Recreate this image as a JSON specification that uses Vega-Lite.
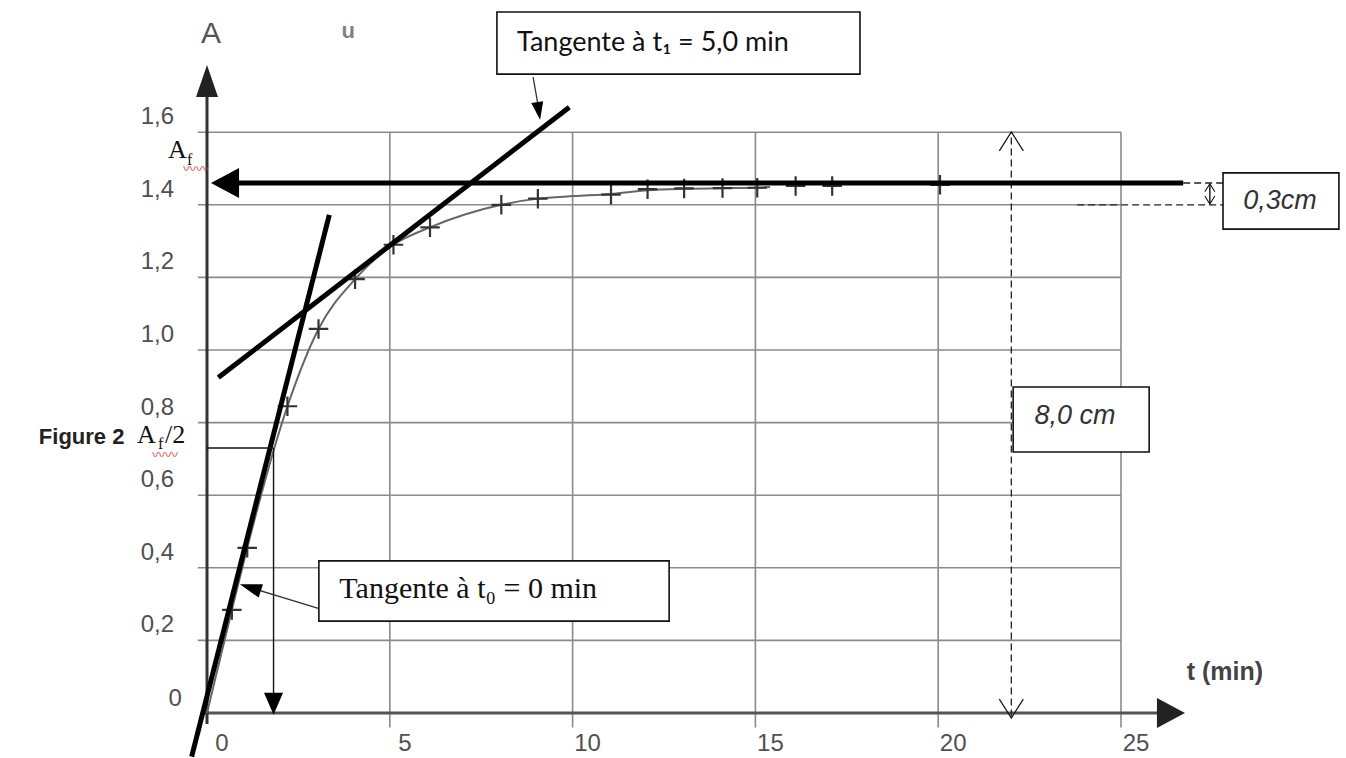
{
  "$schema": "https://vega.github.io/schema/vega-lite/v6.json",
  "width": 1346,
  "height": 758,
  "autosize": {"type": "none"},
  "padding": 0,
  "background": "white",
  "config": {"view": {"stroke": null}},
  "datasets": {
    "hgrid": [{"A": 0.2}, {"A": 0.4}, {"A": 0.6}, {"A": 0.8}, {"A": 1.0}, {"A": 1.2}, {"A": 1.4}, {"A": 1.6}],
    "vgrid": [{"t": 5}, {"t": 10}, {"t": 15}, {"t": 20}, {"t": 25}],
    "measures": [
      {"t": 0.68, "A": 0.284}, {"t": 1.1, "A": 0.455}, {"t": 2.2, "A": 0.845}, {"t": 3.05, "A": 1.058},
      {"t": 4.05, "A": 1.195}, {"t": 5.1, "A": 1.29}, {"t": 6.1, "A": 1.338}, {"t": 8.05, "A": 1.4},
      {"t": 9.05, "A": 1.417}, {"t": 11.05, "A": 1.428}, {"t": 12.05, "A": 1.443}, {"t": 13.05, "A": 1.445},
      {"t": 14.1, "A": 1.446}, {"t": 15.05, "A": 1.447}, {"t": 16.1, "A": 1.452}, {"t": 17.1, "A": 1.452},
      {"t": 20.05, "A": 1.455}
    ],
    "curve": [
      {"t": 0, "A": 0}, {"t": 0.68, "A": 0.284}, {"t": 1.1, "A": 0.455}, {"t": 2.2, "A": 0.845},
      {"t": 3.05, "A": 1.058}, {"t": 4.05, "A": 1.195}, {"t": 5.1, "A": 1.29}, {"t": 6.1, "A": 1.338},
      {"t": 8.05, "A": 1.4}, {"t": 9.05, "A": 1.417}, {"t": 10.05, "A": 1.424}, {"t": 11.05, "A": 1.43},
      {"t": 12.05, "A": 1.44}, {"t": 13.05, "A": 1.444}, {"t": 14.1, "A": 1.446}, {"t": 15.05, "A": 1.447},
      {"t": 15.4, "A": 1.449}
    ],
    "ylabels": [
      {"A": 0.2, "label": "0,2"}, {"A": 0.4, "label": "0,4"}, {"A": 0.6, "label": "0,6"}, {"A": 0.8, "label": "0,8"},
      {"A": 1.0, "label": "1,0"}, {"A": 1.2, "label": "1,2"}, {"A": 1.4, "label": "1,4"}, {"A": 1.6, "label": "1,6"}
    ],
    "xlabels": [
      {"t": 0, "label": "0"}, {"t": 5, "label": "5"}, {"t": 10, "label": "10"},
      {"t": 15, "label": "15"}, {"t": 20, "label": "20"}, {"t": 25, "label": "25"}
    ]
  },
  "layer": [
    {
      "data": {"name": "hgrid"},
      "mark": {"type": "rule", "color": "#8a8a8a", "strokeWidth": 1.6},
      "encoding": {
        "x": {"datum": -0.25, "type": "quantitative", "scale": {"domain": [-5.662, 31.154], "nice": false, "zero": false}, "axis": null},
        "x2": {"datum": 25},
        "y": {"field": "A", "type": "quantitative", "scale": {"domain": [-0.124, 1.9642], "nice": false, "zero": false}, "axis": null}
      }
    },
    {
      "data": {"name": "vgrid"},
      "mark": {"type": "rule", "color": "#8a8a8a", "strokeWidth": 1.6},
      "encoding": {
        "x": {"field": "t", "type": "quantitative", "scale": {"domain": [-5.662, 31.154], "nice": false, "zero": false}, "axis": null},
        "y": {"datum": -0.04, "type": "quantitative", "scale": {"domain": [-0.124, 1.9642], "nice": false, "zero": false}, "axis": null},
        "y2": {"datum": 1.6}
      }
    },
    {
      "data": {"values": [
        {"t": -0.05, "t2": 26.2, "A": 0, "A2": 0, "kind": "xaxis"},
        {"t": 0, "t2": 0, "A": -0.03, "A2": 1.76, "kind": "yaxis"}
      ]},
      "mark": {"type": "rule", "strokeWidth": 3},
      "encoding": {
        "x": {"field": "t", "type": "quantitative", "scale": {"domain": [-5.662, 31.154], "nice": false, "zero": false}, "axis": null},
        "x2": {"field": "t2"},
        "y": {"field": "A", "type": "quantitative", "scale": {"domain": [-0.124, 1.9642], "nice": false, "zero": false}, "axis": null},
        "y2": {"field": "A2"},
        "color": {"field": "kind", "type": "nominal", "scale": {"domain": ["xaxis", "yaxis"], "range": ["#555555", "#333333"]}, "legend": null}
      }
    },
    {
      "data": {"values": [
        {"t": 22, "t2": 22, "A": -0.01, "A2": 1.6},
        {"t": 26.7, "t2": 27.8, "A": 1.46, "A2": 1.46},
        {"t": 23.8, "t2": 27.8, "A": 1.4, "A2": 1.4}
      ]},
      "mark": {"type": "rule", "color": "#222222", "strokeWidth": 1.3, "strokeDash": [7, 4]},
      "encoding": {
        "x": {"field": "t", "type": "quantitative", "scale": {"domain": [-5.662, 31.154], "nice": false, "zero": false}, "axis": null},
        "x2": {"field": "t2"},
        "y": {"field": "A", "type": "quantitative", "scale": {"domain": [-0.124, 1.9642], "nice": false, "zero": false}, "axis": null},
        "y2": {"field": "A2"}
      }
    },
    {
      "data": {"name": "curve"},
      "mark": {"type": "line", "color": "#666666", "strokeWidth": 2, "interpolate": "monotone"},
      "encoding": {
        "x": {"field": "t", "type": "quantitative", "scale": {"domain": [-5.662, 31.154], "nice": false, "zero": false}, "axis": null},
        "y": {"field": "A", "type": "quantitative", "scale": {"domain": [-0.124, 1.9642], "nice": false, "zero": false}, "axis": null}
      }
    },
    {
      "data": {"name": "measures"},
      "mark": {"type": "point", "shape": "M-1,0L1,0M0,-1L0,1", "size": 380, "filled": false, "color": "#333333", "strokeWidth": 2.2, "opacity": 1},
      "encoding": {
        "x": {"field": "t", "type": "quantitative", "scale": {"domain": [-5.662, 31.154], "nice": false, "zero": false}, "axis": null},
        "y": {"field": "A", "type": "quantitative", "scale": {"domain": [-0.124, 1.9642], "nice": false, "zero": false}, "axis": null}
      }
    },
    {
      "data": {"values": [
        {"t": -0.42, "A": -0.12, "t2": 3.345, "A2": 1.372},
        {"t": 0.31, "A": 0.924, "t2": 9.91, "A2": 1.669},
        {"t": 0.6, "A": 1.46, "t2": 26.7, "A2": 1.46}
      ]},
      "mark": {"type": "rule", "color": "#000000", "strokeWidth": 5},
      "encoding": {
        "x": {"field": "t", "type": "quantitative", "scale": {"domain": [-5.662, 31.154], "nice": false, "zero": false}, "axis": null},
        "x2": {"field": "t2"},
        "y": {"field": "A", "type": "quantitative", "scale": {"domain": [-0.124, 1.9642], "nice": false, "zero": false}, "axis": null},
        "y2": {"field": "A2"}
      }
    },
    {
      "data": {"values": [
        {"t": 0, "t2": 1.82, "A": 0.73, "A2": 0.73},
        {"t": 1.82, "t2": 1.82, "A": 0.73, "A2": 0.03},
        {"t": 27.43, "t2": 27.43, "A": 1.405, "A2": 1.455}
      ]},
      "mark": {"type": "rule", "color": "#111111", "strokeWidth": 1.4},
      "encoding": {
        "x": {"field": "t", "type": "quantitative", "scale": {"domain": [-5.662, 31.154], "nice": false, "zero": false}, "axis": null},
        "x2": {"field": "t2"},
        "y": {"field": "A", "type": "quantitative", "scale": {"domain": [-0.124, 1.9642], "nice": false, "zero": false}, "axis": null},
        "y2": {"field": "A2"}
      }
    },
    {
      "data": {"values": [
        {"t": 8.92, "A": 1.752, "t2": 9.08, "A2": 1.66},
        {"t": 3.09, "A": 0.2865, "t2": 1.2, "A2": 0.345}
      ]},
      "mark": {"type": "rule", "color": "#333333", "strokeWidth": 1.3},
      "encoding": {
        "x": {"field": "t", "type": "quantitative", "scale": {"domain": [-5.662, 31.154], "nice": false, "zero": false}, "axis": null},
        "x2": {"field": "t2"},
        "y": {"field": "A", "type": "quantitative", "scale": {"domain": [-0.124, 1.9642], "nice": false, "zero": false}, "axis": null},
        "y2": {"field": "A2"}
      }
    },
    {
      "data": {"values": [{"t": 0, "A": 1.785}]},
      "mark": {"type": "point", "shape": "M0,0L-0.6875,2L0.6875,2Z", "size": 1024, "filled": true, "color": "#222222", "opacity": 1},
      "encoding": {
        "x": {"field": "t", "type": "quantitative", "scale": {"domain": [-5.662, 31.154], "nice": false, "zero": false}, "axis": null},
        "y": {"field": "A", "type": "quantitative", "scale": {"domain": [-0.124, 1.9642], "nice": false, "zero": false}, "axis": null}
      }
    },
    {
      "data": {"values": [{"t": 26.75, "A": 0}]},
      "mark": {"type": "point", "shape": "M0,0L-1.87,-1L-1.87,1Z", "size": 900, "filled": true, "color": "#222222", "opacity": 1},
      "encoding": {
        "x": {"field": "t", "type": "quantitative", "scale": {"domain": [-5.662, 31.154], "nice": false, "zero": false}, "axis": null},
        "y": {"field": "A", "type": "quantitative", "scale": {"domain": [-0.124, 1.9642], "nice": false, "zero": false}, "axis": null}
      }
    },
    {
      "data": {"values": [{"t": 0.11, "A": 1.46}]},
      "mark": {"type": "point", "shape": "M0,0L1.87,-1L1.87,1Z", "size": 900, "filled": true, "color": "#000000", "opacity": 1},
      "encoding": {
        "x": {"field": "t", "type": "quantitative", "scale": {"domain": [-5.662, 31.154], "nice": false, "zero": false}, "axis": null},
        "y": {"field": "A", "type": "quantitative", "scale": {"domain": [-0.124, 1.9642], "nice": false, "zero": false}, "axis": null}
      }
    },
    {
      "data": {"values": [{"t": 1.82, "A": -0.005}]},
      "mark": {"type": "point", "shape": "M0,0L-0.864,-2L0.864,-2Z", "size": 484, "filled": true, "color": "#000000", "opacity": 1},
      "encoding": {
        "x": {"field": "t", "type": "quantitative", "scale": {"domain": [-5.662, 31.154], "nice": false, "zero": false}, "axis": null},
        "y": {"field": "A", "type": "quantitative", "scale": {"domain": [-0.124, 1.9642], "nice": false, "zero": false}, "axis": null}
      }
    },
    {
      "data": {"values": [{"t": 9.11, "A": 1.634}]},
      "mark": {"type": "point", "shape": "M0,0L0.67,2L-0.67,2Z", "size": 324, "angle": 171, "filled": true, "color": "#000000", "opacity": 1},
      "encoding": {
        "x": {"field": "t", "type": "quantitative", "scale": {"domain": [-5.662, 31.154], "nice": false, "zero": false}, "axis": null},
        "y": {"field": "A", "type": "quantitative", "scale": {"domain": [-0.124, 1.9642], "nice": false, "zero": false}, "axis": null}
      }
    },
    {
      "data": {"values": [{"t": 0.9, "A": 0.355}]},
      "mark": {"type": "point", "shape": "M0,0L0.64,2L-0.64,2Z", "size": 484, "angle": 288, "filled": true, "color": "#000000", "opacity": 1},
      "encoding": {
        "x": {"field": "t", "type": "quantitative", "scale": {"domain": [-5.662, 31.154], "nice": false, "zero": false}, "axis": null},
        "y": {"field": "A", "type": "quantitative", "scale": {"domain": [-0.124, 1.9642], "nice": false, "zero": false}, "axis": null}
      }
    },
    {
      "data": {"values": [{"t": 22, "A": 1.601}]},
      "mark": {"type": "point", "shape": "M-1.26,2L0,0L1.26,2", "size": 361, "filled": false, "color": "#111111", "strokeWidth": 1.2, "opacity": 1},
      "encoding": {
        "x": {"field": "t", "type": "quantitative", "scale": {"domain": [-5.662, 31.154], "nice": false, "zero": false}, "axis": null},
        "y": {"field": "A", "type": "quantitative", "scale": {"domain": [-0.124, 1.9642], "nice": false, "zero": false}, "axis": null}
      }
    },
    {
      "data": {"values": [{"t": 22, "A": -0.014}]},
      "mark": {"type": "point", "shape": "M-1.26,-2L0,0L1.26,-2", "size": 361, "filled": false, "color": "#111111", "strokeWidth": 1.2, "opacity": 1},
      "encoding": {
        "x": {"field": "t", "type": "quantitative", "scale": {"domain": [-5.662, 31.154], "nice": false, "zero": false}, "axis": null},
        "y": {"field": "A", "type": "quantitative", "scale": {"domain": [-0.124, 1.9642], "nice": false, "zero": false}, "axis": null}
      }
    },
    {
      "data": {"values": [{"t": 27.43, "A": 1.458}]},
      "mark": {"type": "point", "shape": "M-1.25,2L0,0L1.25,2", "size": 64, "filled": false, "color": "#111111", "strokeWidth": 1.1, "opacity": 1},
      "encoding": {
        "x": {"field": "t", "type": "quantitative", "scale": {"domain": [-5.662, 31.154], "nice": false, "zero": false}, "axis": null},
        "y": {"field": "A", "type": "quantitative", "scale": {"domain": [-0.124, 1.9642], "nice": false, "zero": false}, "axis": null}
      }
    },
    {
      "data": {"values": [{"t": 27.43, "A": 1.402}]},
      "mark": {"type": "point", "shape": "M-1.25,-2L0,0L1.25,-2", "size": 64, "filled": false, "color": "#111111", "strokeWidth": 1.1, "opacity": 1},
      "encoding": {
        "x": {"field": "t", "type": "quantitative", "scale": {"domain": [-5.662, 31.154], "nice": false, "zero": false}, "axis": null},
        "y": {"field": "A", "type": "quantitative", "scale": {"domain": [-0.124, 1.9642], "nice": false, "zero": false}, "axis": null}
      }
    },
    {
      "data": {"values": [
        {"t": 7.93, "t2": 17.86, "A": 1.931, "A2": 1.76},
        {"t": 3.06, "t2": 12.64, "A": 0.419, "A2": 0.253},
        {"t": 27.79, "t2": 30.96, "A": 1.488, "A2": 1.333},
        {"t": 22.05, "t2": 25.77, "A": 0.898, "A2": 0.719}
      ]},
      "mark": {"type": "rect", "fill": "white", "stroke": "#111111", "strokeWidth": 1.6},
      "encoding": {
        "x": {"field": "t", "type": "quantitative", "scale": {"domain": [-5.662, 31.154], "nice": false, "zero": false}, "axis": null},
        "x2": {"field": "t2"},
        "y": {"field": "A", "type": "quantitative", "scale": {"domain": [-0.124, 1.9642], "nice": false, "zero": false}, "axis": null},
        "y2": {"field": "A2"}
      }
    },
    {
      "data": {"values": [{"t": 8.48, "A": 1.846, "label": "Tangente à t₁ = 5,0 min"}]},
      "mark": {"type": "text", "font": "Lato, DejaVu Sans", "fontSize": 27, "align": "left", "baseline": "middle", "color": "#111111"},
      "encoding": {
        "x": {"field": "t", "type": "quantitative", "scale": {"domain": [-5.662, 31.154], "nice": false, "zero": false}, "axis": null},
        "y": {"field": "A", "type": "quantitative", "scale": {"domain": [-0.124, 1.9642], "nice": false, "zero": false}, "axis": null},
        "text": {"field": "label"}
      }
    },
    {
      "data": {"values": [{"t": 3.62, "A": 0.317, "label": "Tangente à t₀ = 0 min"}]},
      "mark": {"type": "text", "font": "Liberation Serif, DejaVu Serif", "fontSize": 30, "align": "left", "baseline": "alphabetic", "color": "#111111"},
      "encoding": {
        "x": {"field": "t", "type": "quantitative", "scale": {"domain": [-5.662, 31.154], "nice": false, "zero": false}, "axis": null},
        "y": {"field": "A", "type": "quantitative", "scale": {"domain": [-0.124, 1.9642], "nice": false, "zero": false}, "axis": null},
        "text": {"field": "label"}
      }
    },
    {
      "data": {"values": [{"t": 29.35, "A": 1.41, "label": "0,3cm"}, {"t": 23.74, "A": 0.818, "label": "8,0 cm"}]},
      "mark": {"type": "text", "font": "Liberation Sans", "fontSize": 27, "fontStyle": "italic", "align": "center", "baseline": "middle", "color": "#333333"},
      "encoding": {
        "x": {"field": "t", "type": "quantitative", "scale": {"domain": [-5.662, 31.154], "nice": false, "zero": false}, "axis": null},
        "y": {"field": "A", "type": "quantitative", "scale": {"domain": [-0.124, 1.9642], "nice": false, "zero": false}, "axis": null},
        "text": {"field": "label"}
      }
    },
    {
      "data": {"values": [{"t": 0.11, "A": 1.87, "label": "A"}]},
      "mark": {"type": "text", "font": "Liberation Sans", "fontSize": 30, "align": "center", "baseline": "middle", "color": "#555555"},
      "encoding": {
        "x": {"field": "t", "type": "quantitative", "scale": {"domain": [-5.662, 31.154], "nice": false, "zero": false}, "axis": null},
        "y": {"field": "A", "type": "quantitative", "scale": {"domain": [-0.124, 1.9642], "nice": false, "zero": false}, "axis": null},
        "text": {"field": "label"}
      }
    },
    {
      "data": {"values": [{"t": 3.86, "A": 1.879, "label": "u"}]},
      "mark": {"type": "text", "font": "Liberation Sans", "fontSize": 22, "fontWeight": "bold", "align": "center", "baseline": "middle", "color": "#808080"},
      "encoding": {
        "x": {"field": "t", "type": "quantitative", "scale": {"domain": [-5.662, 31.154], "nice": false, "zero": false}, "axis": null},
        "y": {"field": "A", "type": "quantitative", "scale": {"domain": [-0.124, 1.9642], "nice": false, "zero": false}, "axis": null},
        "text": {"field": "label"}
      }
    },
    {
      "data": {"values": [{"t": -4.6, "A": 0.76, "label": "Figure 2"}]},
      "mark": {"type": "text", "font": "Liberation Sans", "fontSize": 22, "fontWeight": "bold", "align": "left", "baseline": "middle", "color": "#222222"},
      "encoding": {
        "x": {"field": "t", "type": "quantitative", "scale": {"domain": [-5.662, 31.154], "nice": false, "zero": false}, "axis": null},
        "y": {"field": "A", "type": "quantitative", "scale": {"domain": [-0.124, 1.9642], "nice": false, "zero": false}, "axis": null},
        "text": {"field": "label"}
      }
    },
    {
      "data": {"values": [{"t": 27.84, "A": 0.113, "label": "t (min)"}]},
      "mark": {"type": "text", "font": "Liberation Sans", "fontSize": 25, "fontWeight": "bold", "align": "center", "baseline": "middle", "color": "#444444"},
      "encoding": {
        "x": {"field": "t", "type": "quantitative", "scale": {"domain": [-5.662, 31.154], "nice": false, "zero": false}, "axis": null},
        "y": {"field": "A", "type": "quantitative", "scale": {"domain": [-0.124, 1.9642], "nice": false, "zero": false}, "axis": null},
        "text": {"field": "label"}
      }
    },
    {
      "data": {"name": "ylabels"},
      "mark": {"type": "text", "font": "Liberation Sans", "fontSize": 24, "align": "right", "baseline": "middle", "dy": -15, "color": "#505050"},
      "encoding": {
        "x": {"datum": -0.9, "type": "quantitative", "scale": {"domain": [-5.662, 31.154], "nice": false, "zero": false}, "axis": null},
        "y": {"field": "A", "type": "quantitative", "scale": {"domain": [-0.124, 1.9642], "nice": false, "zero": false}, "axis": null},
        "text": {"field": "label"}
      }
    },
    {
      "data": {"values": [{"t": -0.87, "A": 0, "label": "0"}]},
      "mark": {"type": "text", "font": "Liberation Sans", "fontSize": 24, "align": "center", "baseline": "middle", "dy": -14, "color": "#505050"},
      "encoding": {
        "x": {"field": "t", "type": "quantitative", "scale": {"domain": [-5.662, 31.154], "nice": false, "zero": false}, "axis": null},
        "y": {"field": "A", "type": "quantitative", "scale": {"domain": [-0.124, 1.9642], "nice": false, "zero": false}, "axis": null},
        "text": {"field": "label"}
      }
    },
    {
      "data": {"name": "xlabels"},
      "mark": {"type": "text", "font": "Liberation Sans", "fontSize": 24, "align": "center", "baseline": "middle", "dx": 15, "color": "#505050"},
      "encoding": {
        "x": {"field": "t", "type": "quantitative", "scale": {"domain": [-5.662, 31.154], "nice": false, "zero": false}, "axis": null},
        "y": {"datum": -0.085, "type": "quantitative", "scale": {"domain": [-0.124, 1.9642], "nice": false, "zero": false}, "axis": null},
        "text": {"field": "label"}
      }
    },
    {
      "data": {"values": [{"t": -1.067, "A": 1.529, "label": "A"}, {"t": -1.915, "A": 0.744, "label": "A"}, {"t": -1.149, "A": 0.744, "label": "/2"}]},
      "mark": {"type": "text", "font": "Liberation Serif", "fontSize": 26, "align": "left", "baseline": "alphabetic", "color": "#111111"},
      "encoding": {
        "x": {"field": "t", "type": "quantitative", "scale": {"domain": [-5.662, 31.154], "nice": false, "zero": false}, "axis": null},
        "y": {"field": "A", "type": "quantitative", "scale": {"domain": [-0.124, 1.9642], "nice": false, "zero": false}, "axis": null},
        "text": {"field": "label"}
      }
    },
    {
      "data": {"values": [{"t": -0.547, "A": 1.51, "label": "f"}, {"t": -1.34, "A": 0.727, "label": "f"}]},
      "mark": {"type": "text", "font": "Liberation Serif", "fontSize": 16, "align": "left", "baseline": "alphabetic", "color": "#111111"},
      "encoding": {
        "x": {"field": "t", "type": "quantitative", "scale": {"domain": [-5.662, 31.154], "nice": false, "zero": false}, "axis": null},
        "y": {"field": "A", "type": "quantitative", "scale": {"domain": [-0.124, 1.9642], "nice": false, "zero": false}, "axis": null},
        "text": {"field": "label"}
      }
    },
    {
      "data": {"values": [{"t": -0.3, "A": 1.498, "label": "〰〰"}, {"t": -1.15, "A": 0.712, "label": "〰〰"}]},
      "mark": {"type": "text", "font": "Noto Sans CJK SC", "fontSize": 13, "align": "center", "baseline": "middle", "color": "#d03030"},
      "encoding": {
        "x": {"field": "t", "type": "quantitative", "scale": {"domain": [-5.662, 31.154], "nice": false, "zero": false}, "axis": null},
        "y": {"field": "A", "type": "quantitative", "scale": {"domain": [-0.124, 1.9642], "nice": false, "zero": false}, "axis": null},
        "text": {"field": "label"}
      }
    }
  ]
}
